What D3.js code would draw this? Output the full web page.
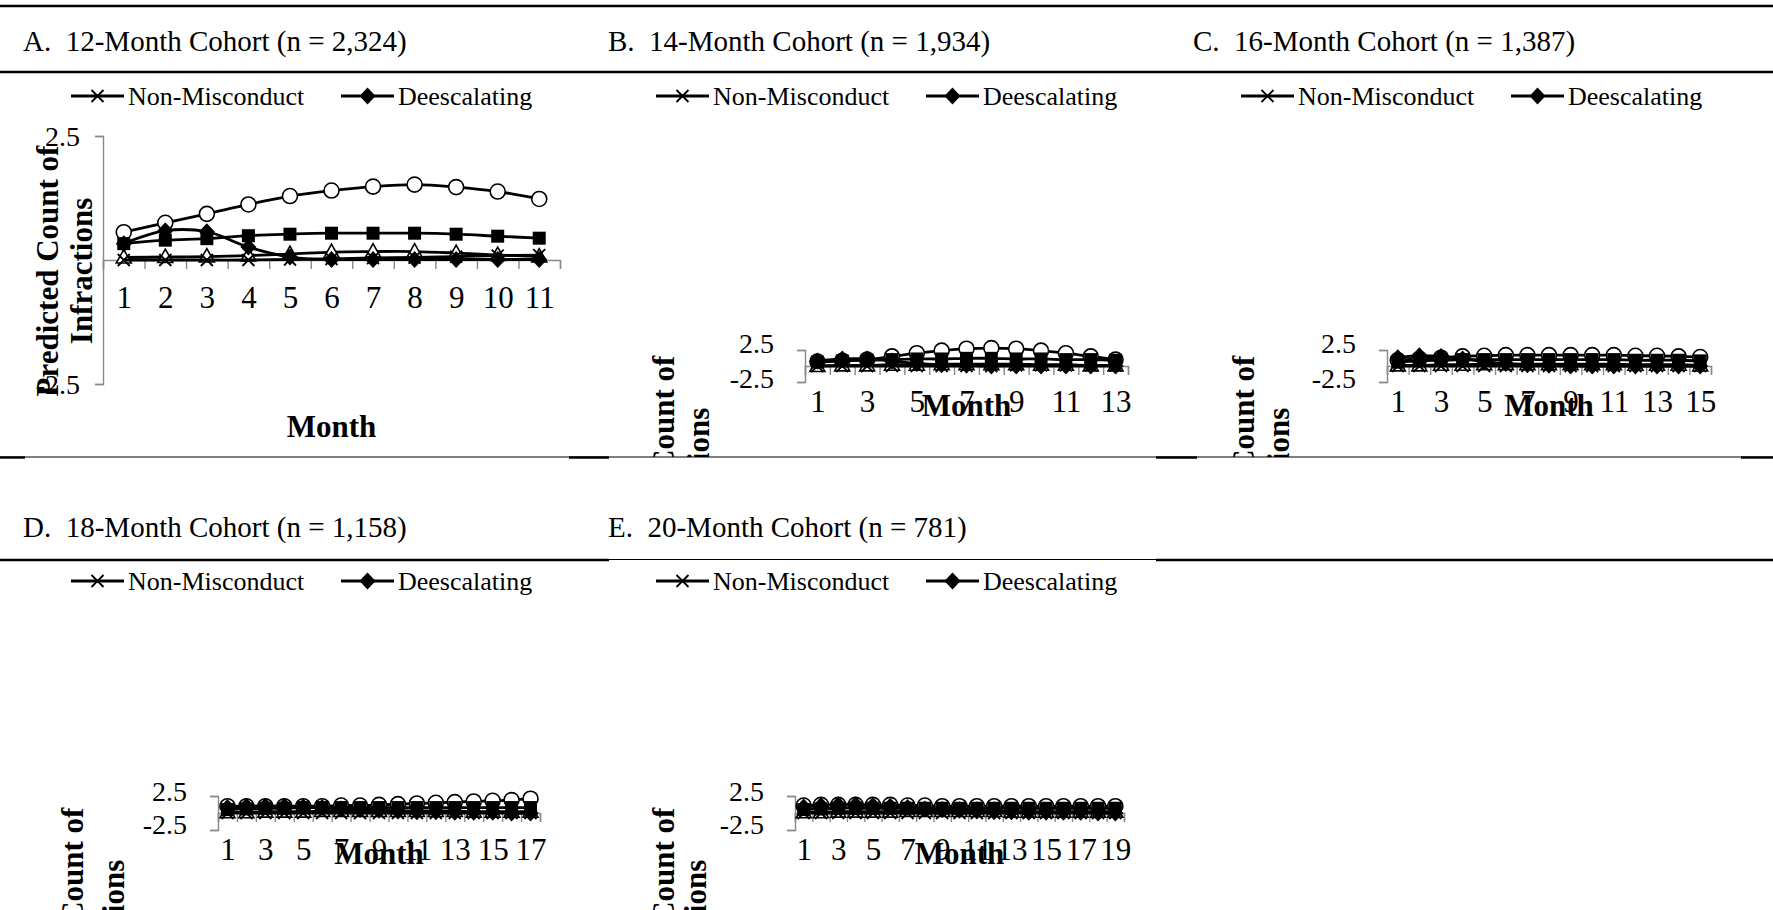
<!DOCTYPE html>
<html>
<head>
<meta charset="utf-8">
<title>Predicted Count of Infractions by Release Cohort</title>
<script src="https://cdn.jsdelivr.net/npm/d3@7"></script>
<style>
  body { margin: 0; background: #fff; }
  svg { display: block; font-family: "Liberation Serif", "Times New Roman", serif; }
</style>
</head>
<body>
<script>
// ---- data ----
var panelTitles = ["A.  12-Month Cohort (n = 2,324)", "B.  14-Month Cohort (n = 1,934)",
                   "C.  16-Month Cohort (n = 1,387)", "D.  18-Month Cohort (n = 1,158)",
                   "E.  20-Month Cohort (n = 781)"];
var monthCounts = [11, 13, 15, 17, 19];
var yTickValues = [2.5, -2.5];
var yTickLabels = ["2.5", "-2.5"];
var legendNames = ["Non-Misconduct", "Deescalating"];
var yTitleLines = ["Predicted Count of", "Infractions"];
var xTitle = "Month";

// one array per panel (A..E), months 1..n
var nonMisconduct = [
  [0.00, 0.00, 0.00, 0.00, 0.01, 0.02, 0.04, 0.05, 0.07, 0.09, 0.10],
  [0.0, 0.0, 0.0, 0.0, 0.0, 0.0, 0.0, 0.0, 0.1, 0.1, 0.1, 0.1, 0.1],
  [0.0, 0.0, 0.0, 0.0, 0.0, 0.0, 0.0, 0.0, 0.0, 0.0, 0.0, 0.0, 0.0, 0.0, 0.0],
  [0.0, 0.0, 0.0, 0.0, 0.0, 0.0, 0.0, 0.0, 0.0, 0.0, 0.0, 0.0, 0.0, 0.0, 0.0, 0.0, 0.0],
  [0.0, 0.0, 0.0, 0.0, 0.0, 0.0, 0.0, 0.0, 0.0, 0.0, 0.0, 0.0, 0.0, 0.0, 0.0, 0.0, 0.0, 0.0, 0.0]
];
var deescalating = [
  [0.33, 0.59, 0.57, 0.26, 0.06, 0.01, 0.01, 0.01, 0.01, 0.01, 0.01],
  [0.8, 1.1, 1.1, 0.8, 0.4, 0.2, 0.1, 0.0, 0.0, 0.0, 0.0, 0.0, 0.0],
  [1.3, 1.6, 1.5, 1.1, 0.7, 0.4, 0.2, 0.1, 0.0, 0.0, 0.0, 0.0, 0.0, 0.0, 0.0],
  [0.8, 1.0, 1.0, 1.0, 0.9, 0.8, 0.6, 0.5, 0.4, 0.3, 0.2, 0.2, 0.1, 0.1, 0.1, 0.0, 0.0],
  [0.9, 1.1, 1.2, 1.2, 1.1, 1.0, 0.8, 0.6, 0.5, 0.4, 0.3, 0.2, 0.2, 0.1, 0.1, 0.1, 0.1, 0.0, 0.0]
];
// unlabelled groups (their legend entries are cut off in the source)
var triangleGroup = [
  [0.05, 0.06, 0.07, 0.09, 0.12, 0.16, 0.17, 0.17, 0.14, 0.10, 0.07],
  [0.0, 0.1, 0.1, 0.2, 0.2, 0.3, 0.3, 0.3, 0.3, 0.2, 0.2, 0.1, 0.1],
  [0.1, 0.1, 0.2, 0.2, 0.3, 0.3, 0.3, 0.3, 0.3, 0.3, 0.3, 0.2, 0.2, 0.2, 0.1],
  [0.1, 0.1, 0.2, 0.2, 0.2, 0.3, 0.3, 0.3, 0.3, 0.3, 0.3, 0.3, 0.3, 0.2, 0.2, 0.2, 0.2],
  [0.1, 0.1, 0.2, 0.2, 0.2, 0.2, 0.3, 0.3, 0.3, 0.3, 0.3, 0.3, 0.2, 0.2, 0.2, 0.2, 0.2, 0.2, 0.2]
];
var squareGroup = [
  [0.33, 0.40, 0.43, 0.49, 0.52, 0.54, 0.54, 0.54, 0.52, 0.48, 0.44],
  [0.6, 0.8, 0.9, 1.0, 1.1, 1.1, 1.2, 1.2, 1.1, 1.1, 1.0, 1.0, 0.9],
  [0.6, 0.8, 0.9, 1.0, 1.0, 1.0, 1.0, 1.0, 1.0, 1.0, 1.0, 0.9, 0.9, 0.9, 0.8],
  [0.5, 0.6, 0.7, 0.7, 0.8, 0.8, 0.8, 0.8, 0.8, 0.8, 0.8, 0.8, 0.8, 0.8, 0.8, 0.8, 0.8],
  [0.5, 0.6, 0.7, 0.7, 0.7, 0.7, 0.7, 0.7, 0.7, 0.7, 0.7, 0.7, 0.7, 0.7, 0.7, 0.7, 0.7, 0.7, 0.7]
];
var circleGroup = [
  [0.56, 0.75, 0.93, 1.12, 1.29, 1.40, 1.48, 1.52, 1.47, 1.38, 1.23],
  [0.7, 0.8, 1.0, 1.5, 2.0, 2.4, 2.7, 2.8, 2.7, 2.4, 2.0, 1.5, 1.0],
  [0.9, 1.1, 1.3, 1.5, 1.6, 1.7, 1.7, 1.7, 1.7, 1.7, 1.7, 1.6, 1.6, 1.5, 1.4],
  [1.0, 1.0, 1.0, 1.0, 1.0, 1.0, 1.1, 1.1, 1.2, 1.3, 1.4, 1.5, 1.6, 1.7, 1.8, 1.9, 2.1],
  [1.1, 1.2, 1.2, 1.2, 1.2, 1.2, 1.1, 1.1, 1.0, 1.0, 1.0, 1.0, 1.0, 1.0, 1.0, 1.0, 1.0, 1.0, 1.0]
];

// ---- layout ----
var W = 1773, H = 910;
var panels = [
  { cx: 0,    titleY: 41,  legendY: 96,  clip: [76, 457],  plot: [103, 560, 136, 384], labNudge: [0, 0],  labGap: 23,
    yt: [47, 81, 271],  tickY: 297, monthY: 426, every: 1 },
  { cx: 585,  titleY: 41,  legendY: 96,  clip: [76, 457],  plot: [805, 1128, 350, 382], labNudge: [-7, -4], labGap: 31,
    yt: [663, 698, 481], tickY: 401, monthY: 405, every: 2 },
  { cx: 1170, titleY: 41,  legendY: 96,  clip: [76, 457],  plot: [1387, 1711, 350, 382], labNudge: [-7, -4], labGap: 31,
    yt: [1243, 1278, 481], tickY: 401, monthY: 405, every: 2 },
  { cx: 0,    titleY: 527, legendY: 581, clip: [563, 910], plot: [218, 540, 796, 830], labNudge: [-5, -6], labGap: 31,
    yt: [72, 113, 933], tickY: 849, monthY: 853, every: 2 },
  { cx: 585,  titleY: 527, legendY: 581, clip: [563, 910], plot: [795, 1124, 796, 830], labNudge: [-5, -6], labGap: 31,
    yt: [663, 695, 933], tickY: 849, monthY: 853, every: 2 }
];
var grey = "#898989";

var svg = d3.select("body").append("svg")
    .attr("width", W)
    .attr("height", H);

// markers
var markers = {
  x: function(g) {
    g.append("path").attr("d", "M-6,-6L6,6M-6,6L6,-6")
      .attr("stroke", "black").attr("stroke-width", 1.8).attr("fill", "none");
  },
  diamond: function(g) {
    g.append("path").attr("d", "M0,-8.5L8,0L0,8.5L-8,0Z").attr("fill", "black");
  },
  triangle: function(g) {
    g.append("path").attr("d", "M0,-8L7.5,5.5L-7.5,5.5Z")
      .attr("fill", "white").attr("stroke", "black").attr("stroke-width", 1.6);
  },
  square: function(g) {
    g.append("rect").attr("x", -6.5).attr("y", -6.5).attr("width", 13).attr("height", 13).attr("fill", "black");
  },
  circle: function(g) {
    g.append("circle").attr("r", 7.5)
      .attr("fill", "white").attr("stroke", "black").attr("stroke-width", 1.6);
  }
};

// bottom to top
var seriesList = [
  { values: circleGroup, marker: "circle" },
  { values: triangleGroup, marker: "triangle" },
  { values: squareGroup, marker: "square" },
  { values: deescalating, marker: "diamond" },
  { values: nonMisconduct, marker: "x" }
];

panels.forEach(function(p, i) {
  var n = monthCounts[i];
  var months = d3.range(1, n + 1);

  // title
  svg.append("text")
    .attr("x", p.cx + 23).attr("y", p.titleY)
    .attr("dominant-baseline", "central")
    .style("font-size", "29px")
    .style("white-space", "pre")
    .text(panelTitles[i]);

  var clipId = "clip" + i;
  svg.append("clipPath").attr("id", clipId)
    .append("rect")
    .attr("x", p.cx + 11).attr("y", p.clip[0])
    .attr("width", 558).attr("height", p.clip[1] - p.clip[0]);

  var g = svg.append("g").attr("clip-path", "url(#" + clipId + ")");

  // legend
  var leg = g.append("g").attr("transform", "translate(" + p.cx + "," + p.legendY + ")");
  [[71, "x"], [341, "diamond"]].forEach(function(it, k) {
    leg.append("line").attr("x1", it[0]).attr("x2", it[0] + 53)
      .attr("stroke", "black").attr("stroke-width", 2.8);
    var m = leg.append("g").attr("transform", "translate(" + (it[0] + 26.5) + ",0)");
    markers[it[1]](m);
    leg.append("text").attr("x", it[0] + 57).attr("dominant-baseline", "central")
      .style("font-size", "26px").text(legendNames[k]);
  });

  var x = d3.scaleLinear().domain([0.5, n + 0.5]).range([p.plot[0], p.plot[1]]);
  var y = d3.scaleLinear().domain([-2.5, 2.5]).range([p.plot[3], p.plot[2]]);

  // y axis
  var ya = g.append("g").attr("transform", "translate(" + p.plot[0] + ",0)")
    .call(d3.axisLeft(y).tickValues(yTickValues).tickSize(8).tickSizeOuter(8).tickFormat(""));
  ya.selectAll("path, line").attr("stroke", grey).attr("stroke-width", 1.4);

  yTickValues.forEach(function(v, k) {
    g.append("text")
      .attr("x", p.plot[0] - p.labGap)
      .attr("y", y(v) + p.labNudge[k])
      .attr("text-anchor", "end")
      .attr("dominant-baseline", "central")
      .style("font-size", "28px")
      .text(yTickLabels[k]);
  });

  // x axis at zero
  var xa = g.append("g").attr("transform", "translate(0," + y(0) + ")")
    .call(d3.axisBottom(x).tickValues(d3.range(0, n + 1).map(function(d) { return d + 0.5; }))
      .tickSize(9).tickSizeOuter(9).tickFormat(""));
  xa.selectAll("path, line").attr("stroke", grey).attr("stroke-width", 1.4);

  var xl = g.append("g").attr("transform", "translate(0," + p.tickY + ")")
    .call(d3.axisBottom(x).tickValues(months.filter(function(m) { return (m - 1) % p.every === 0; }))
      .tickSize(0).tickPadding(0));
  xl.attr("font-family", null).attr("font-size", null);
  xl.select(".domain").remove();
  xl.selectAll("text").attr("dy", null).attr("y", 0)
    .attr("dominant-baseline", "central")
    .style("font-size", "31px").attr("fill", "black");

  // series
  var line = d3.line()
    .x(function(d, j) { return x(j + 1); })
    .y(function(d) { return y(d); })
    .curve(d3.curveCatmullRom.alpha(0.5));

  seriesList.forEach(function(s) {
    var vals = s.values[i];
    g.append("path").attr("d", line(vals))
      .attr("fill", "none").attr("stroke", "black").attr("stroke-width", 2.8);
    vals.forEach(function(v, j) {
      var m = g.append("g").attr("transform", "translate(" + x(j + 1) + "," + y(v) + ")");
      markers[s.marker](m);
    });
  });

  // axis titles
  g.append("text")
    .attr("x", (p.plot[0] + p.plot[1]) / 2).attr("y", p.monthY)
    .attr("text-anchor", "middle").attr("dominant-baseline", "central")
    .style("font-size", "31px").style("font-weight", "bold")
    .text(xTitle);

  var midX = (p.yt[0] + p.yt[1]) / 2, gap = p.yt[1] - p.yt[0];
  var yt = g.append("text")
    .attr("transform", "translate(" + midX + "," + p.yt[2] + ") rotate(-90)")
    .attr("text-anchor", "middle")
    .style("font-size", "31px").style("font-weight", "bold");
  yTitleLines.forEach(function(t, k) {
    yt.append("tspan").attr("x", 0).attr("y", (k === 0 ? -gap / 2 : gap / 2))
      .attr("dominant-baseline", "central").text(t);
  });
});

// table rules
function rule(y, x1, x2, w) {
  svg.append("line").attr("x1", x1).attr("x2", x2).attr("y1", y).attr("y2", y)
    .attr("stroke", "black").attr("stroke-width", w);
}
rule(6, 0, W, 2.4);
rule(72, 0, W, 2.4);
rule(457, 0, W, 1.2);
[[0, 25], [569, 609], [1156, 1197], [1741, W]].forEach(function(s) { rule(457.5, s[0], s[1], 2.4); });
rule(560, 0, 609, 2.4);
rule(559.5, 609, 1156, 1.2);
rule(560, 1156, W, 2.4);
</script>
</body>
</html>
